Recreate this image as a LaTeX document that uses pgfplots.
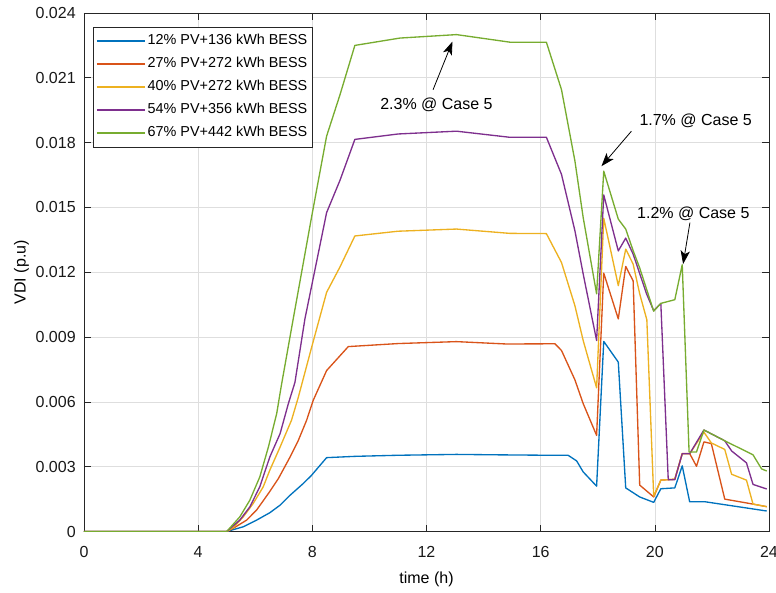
\documentclass[border=0pt]{standalone}
\usepackage{pgfplots}
\pgfplotsset{compat=1.18}
\usepackage{fontspec}
\setmainfont{Liberation Sans}
\usetikzlibrary{arrows.meta}
\definecolor{mblue}{rgb}{0,0.447,0.741}
\definecolor{morange}{rgb}{0.850,0.325,0.098}
\definecolor{myellow}{rgb}{0.929,0.694,0.125}
\definecolor{mpurple}{rgb}{0.494,0.184,0.556}
\definecolor{mgreen}{rgb}{0.466,0.674,0.188}
\begin{document}
\begin{tikzpicture}
\useasboundingbox (-63pt,-46.1pt) rectangle (519pt,398.65pt);
\begin{axis}[
  at={(0,0)}, anchor=south west,
  scale only axis, width=513.75pt, height=388.9pt,
  xmin=0, xmax=24, ymin=0, ymax=0.024,
  xtick={0,4,8,12,16,20,24},
  ytick={0,0.003,0.006,0.009,0.012,0.015,0.018,0.021,0.024},
  yticklabels={0,0.003,0.006,0.009,0.012,0.015,0.018,0.021,0.024},
  /pgf/number format/assume math mode=true,
  tick align=inside, major tick length=5.25pt,
  tick style={color=black!85, line width=0.5pt},
  axis line style={color=black!85, line width=0.6pt},
  grid=major, grid style={color=black!13, line width=0.5pt},
  ticklabel style={font=\fontsize{12}{14}\selectfont, text=black!90},
  xticklabel style={yshift=-7.4pt},
  yticklabel style={xshift=-2.7pt},
  xlabel={time (h)}, ylabel={VDI (p.u)},
  xlabel style={at={(axis description cs:0.5,-0.0916)}, anchor=center, font=\fontsize{12}{14}\selectfont},
  ylabel style={at={(axis description cs:-0.0912,0.5)}, anchor=center, font=\fontsize{12}{14}\selectfont},
  legend cell align=left,
  legend image code/.code={\draw[#1, line width=1.3pt] (0pt,0pt) -- (36pt,0pt);},
  legend style={at={(axis description cs:0.0131,0.973)}, anchor=north west,
    draw=black!85, fill=white,
    font=\fontsize{10.8}{13}\selectfont,
    inner xsep=2pt, inner ysep=3.75pt, row sep=3.75pt,
    nodes={inner sep=1.5pt, text height=8pt, text depth=2.5pt},
    /tikz/every even column/.append style={column sep=0.5pt}},
  every axis plot/.append style={line width=1pt, line join=round},
]
\addplot[mblue] coordinates {
(0,0) (5.0,0) (5.58,0.00022) (6.05,0.00053) (6.51,0.00087) (6.87,0.00122) (7.22,0.00168) (7.68,0.00222) (7.97,0.0026) (8.5,0.00342) (9.5,0.00348) (11,0.00353) (13.05,0.00357) (14.5,0.00355) (16.3,0.00353) (16.96,0.00353) (17.26,0.00327) (17.49,0.00276) (17.96,0.0021) (18.21,0.0088) (18.72,0.00784) (18.98,0.00202) (19.47,0.0016) (19.96,0.00135) (20.21,0.00198) (20.70,0.00202) (20.96,0.00304) (21.22,0.00138) (21.75,0.00138) (23.92,0.00095)
};
\addlegendentry{12\% PV+136 kWh BESS}
\addplot[morange] coordinates {
(0,0) (5.0,0) (5.23,0.00015) (5.70,0.00053) (6.05,0.001) (6.46,0.00176) (6.81,0.00245) (7.22,0.00345) (7.51,0.00422) (7.80,0.00515) (8.03,0.00607) (8.5,0.00745) (9.26,0.00856) (11,0.0087) (13.05,0.00879) (14.8,0.00868) (16.5,0.00869) (16.73,0.00838) (17.2,0.00702) (17.49,0.00592) (17.96,0.00445) (18.21,0.01196) (18.72,0.00984) (18.98,0.01227) (19.24,0.0116) (19.47,0.00215) (19.96,0.0016) (20.21,0.00238) (20.70,0.00242) (20.96,0.00361) (21.22,0.00361) (21.46,0.00302) (21.72,0.00415) (21.98,0.00407) (22.45,0.0015) (23.44,0.00127) (23.92,0.00115)
};
\addlegendentry{27\% PV+272 kWh BESS}
\addplot[myellow] coordinates {
(0,0) (5.0,0) (5.23,0.00018) (5.58,0.00068) (5.93,0.0013) (6.28,0.00207) (6.51,0.00284) (6.87,0.00391) (7.27,0.00515) (7.51,0.00622) (7.97,0.0085) (8.5,0.01107) (8.97,0.01225) (9.49,0.01368) (11,0.0139) (13.05,0.014) (14.92,0.0138) (16.2,0.01379) (16.73,0.01245) (17.2,0.01045) (17.49,0.00884) (17.96,0.00665) (18.21,0.0145) (18.72,0.01138) (18.98,0.01307) (19.24,0.01238) (19.47,0.011) (19.72,0.0098) (19.96,0.00164) (20.21,0.00238) (20.70,0.00242) (20.96,0.0036) (21.22,0.0036) (21.72,0.0046) (21.98,0.0041) (22.45,0.0038) (22.69,0.00265) (23.21,0.00238) (23.44,0.00127) (23.92,0.00115)
};
\addlegendentry{40\% PV+272 kWh BESS}
\addplot[mpurple] coordinates {
(0,0) (5.0,0) (5.46,0.00053) (5.81,0.00114) (6.16,0.00207) (6.51,0.00345) (6.87,0.00453) (7.16,0.00592) (7.39,0.0069) (7.74,0.00984) (8.5,0.01476) (8.97,0.01626) (9.49,0.01815) (11,0.0184) (13.05,0.01853) (14.9,0.01825) (16.2,0.01825) (16.73,0.01653) (17.2,0.01392) (17.49,0.01192) (17.96,0.00884) (18.21,0.01558) (18.72,0.01299) (18.98,0.01358) (19.24,0.01284) (19.71,0.011) (19.96,0.01022) (20.21,0.01056) (20.47,0.0024) (20.70,0.0024) (20.96,0.0036) (21.22,0.0036) (21.72,0.0047) (22.45,0.0042) (22.69,0.00373) (23.21,0.00318) (23.44,0.00218) (23.92,0.00197)
};
\addlegendentry{54\% PV+356 kWh BESS}
\addplot[mgreen] coordinates {
(0,0) (5.0,0) (5.46,0.00068) (5.81,0.00145) (6.16,0.00253) (6.46,0.00391) (6.75,0.00545) (6.92,0.0068) (7.33,0.00984) (7.97,0.01453) (8.5,0.0183) (8.97,0.02022) (9.49,0.0225) (11.07,0.02284) (13.05,0.023) (14.92,0.02265) (16.2,0.02265) (16.73,0.02045) (17.2,0.01715) (17.49,0.01453) (17.96,0.011) (18.21,0.01668) (18.72,0.01446) (18.98,0.014) (19.24,0.0130) (19.47,0.0122) (19.96,0.0102) (20.21,0.01056) (20.70,0.01073) (20.96,0.01235) (21.2,0.00368) (21.46,0.00368) (21.72,0.0047) (22.45,0.0042) (23.44,0.00355) (23.74,0.0029) (23.92,0.0028)
};
\addlegendentry{67\% PV+442 kWh BESS}
\draw[-{Stealth[length=10pt,width=7pt,inset=2.5pt]}, line width=0.6pt] (axis cs:12.23,0.02045) -- (axis cs:12.91,0.02268);
\node[font=\fontsize{12}{14}\selectfont] at (axis cs:12.35,0.01976) {2.3\% @ Case 5};
\draw[-{Stealth[length=10pt,width=7pt,inset=2.5pt]}, line width=0.6pt] (axis cs:19.18,0.01853) -- (axis cs:18.13,0.01691);
\node[font=\fontsize{12}{14}\selectfont] at (axis cs:21.43,0.0190) {1.7\% @ Case 5};
\draw[-{Stealth[length=10pt,width=7pt,inset=2.5pt]}, line width=0.6pt] (axis cs:21.23,0.0143) -- (axis cs:20.99,0.01238);
\node[font=\fontsize{12}{14}\selectfont] at (axis cs:21.35,0.01471) {1.2\% @ Case 5};
\end{axis}
\end{tikzpicture}
\end{document}
